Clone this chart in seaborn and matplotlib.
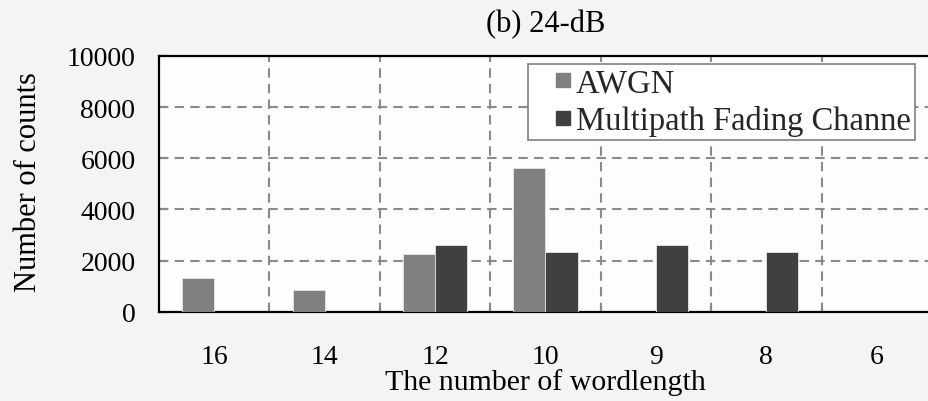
import matplotlib
matplotlib.use("Agg")
import matplotlib.pyplot as plt
import seaborn as sns
import pandas as pd
from matplotlib.ticker import FixedLocator
from matplotlib.lines import Line2D

# ---- data ----
wordlengths = ["16", "14", "12", "10", "9", "8", "6"]
awgn = [1333, 833, 2267, 5633, 0, 0, 0]
multipath = [0, 0, 2600, 2333, 2600, 2333, 0]
series_names = ["AWGN", "Multipath Fading Channe"]
series_colors = ["#808080", "#404040"]
yticks = [0, 2000, 4000, 6000, 8000, 10000]
title = "(b) 24-dB"
xlabel = "The number of wordlength"
ylabel = "Number of counts"

df = pd.DataFrame({
    "wordlength": wordlengths * 2,
    "count": awgn + multipath,
    "channel": [series_names[0]] * len(wordlengths) + [series_names[1]] * len(wordlengths),
})

sns.set_theme(style="white")
plt.rcParams["font.family"] = ["Liberation Serif", "DejaVu Serif"]

W, H = 929, 402
fig = plt.figure(figsize=(W / 100, H / 100), dpi=100, facecolor="#f4f4f4")
left, bottom_px, right, top_px = 159, 312.7, 932, 57
ax = fig.add_axes([left / W, 1 - bottom_px / H, (right - left) / W, (bottom_px - top_px) / H])
ax.set_facecolor("#fdfdfd")

sns.barplot(data=df, x="wordlength", y="count", hue="channel", order=wordlengths,
            hue_order=series_names, palette=series_colors, saturation=1,
            width=0.58, dodge=True, edgecolor="#e6e6e6", linewidth=0.6, ax=ax,
            legend=False, zorder=3)

ax.set_xlim(-0.5, 6.5)
ax.set_ylim(0, 10000)
ax.set_yticks(yticks)
ax.set_yticklabels([str(v) for v in yticks])

# grid
for y in yticks[1:-1]:
    ax.axhline(y, color="#8a8a8a", lw=1.5, ls=(0, (4.5, 3)), zorder=1)
ax.xaxis.set_minor_locator(FixedLocator([i + 0.5 for i in range(6)]))
for x in [i + 0.5 for i in range(6)]:
    ax.axvline(x, color="#8a8a8a", lw=1.5, ls=(0, (4.5, 3)), zorder=1)

ax.tick_params(axis="x", which="major", length=0, pad=23, labelsize=20, colors="black")
ax.tick_params(axis="x", which="minor", direction="in", length=4, width=1.5, color="black", bottom=True)
ax.tick_params(axis="y", which="major", direction="in", length=6, width=1.5, pad=17,
               labelsize=20, colors="black", left=True)

for s in ["left", "bottom", "top"]:
    ax.spines[s].set_visible(True)
    ax.spines[s].set_color("black")
    ax.spines[s].set_linewidth(1.6)
ax.spines["right"].set_visible(False)

ax.set_title(title, fontsize=22, pad=18, color="black")
ax.set_xlabel(xlabel, fontsize=21.5, color="black")
ax.set_ylabel(ylabel, fontsize=22, color="black")
ax.xaxis.set_label_coords(0.5, -0.222)
ax.yaxis.set_label_coords(-0.15, 0.51)

handles = [Line2D([], [], ls="none", marker="s", markersize=10.5, markerfacecolor=c,
                  markeredgecolor=c) for c in series_colors]
leg = ax.legend(handles, series_names, loc="upper left",
                bbox_to_anchor=(528 / W, 1 - 65 / H), bbox_transform=fig.transFigure,
                borderaxespad=0, fontsize=23.5, frameon=True, fancybox=False,
                handlelength=1.9, handletextpad=-0.55,
                labelspacing=0.2, borderpad=0.12)
leg.get_frame().set_edgecolor("#808080")
leg.get_frame().set_linewidth(1.2)
leg.get_frame().set_facecolor("white")
leg.get_frame().set_alpha(1)
leg.set_zorder(5)

fig.savefig("out.png", dpi=100, facecolor=fig.get_facecolor())
